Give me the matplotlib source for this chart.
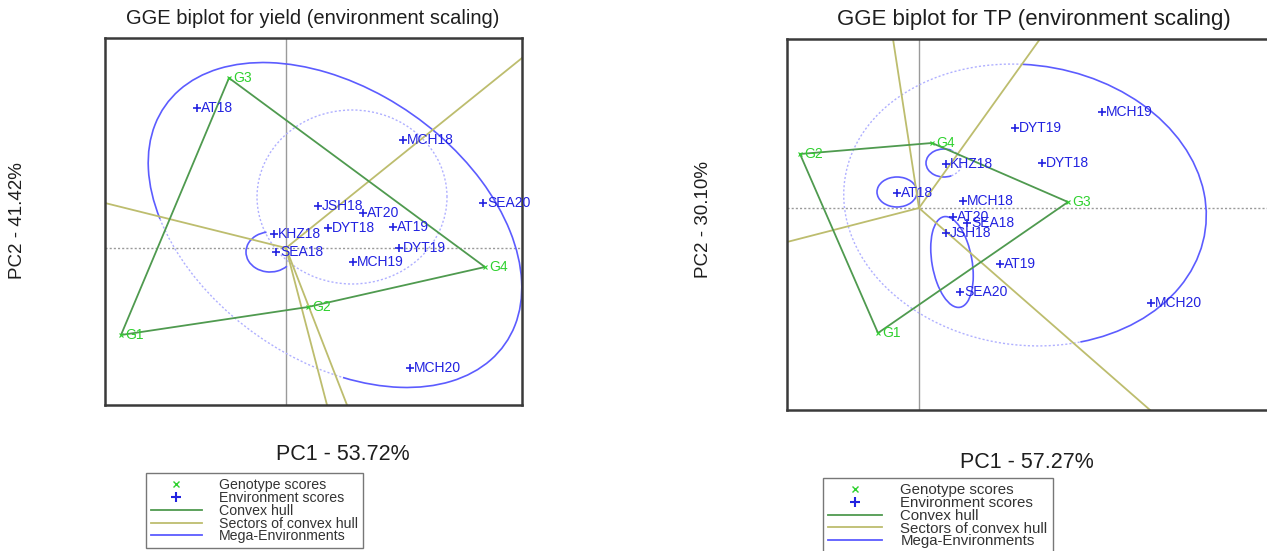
import matplotlib.pyplot as plt
from matplotlib.lines import Line2D
from matplotlib.patches import Arc

plt.rcParams['font.family'] = ['Liberation Sans', 'DejaVu Sans']

# ---- yield biplot (left) ----
y_gen = ['G1', 'G2', 'G3', 'G4']
y_gen_x = [-1.65, 0.22, -0.57, 1.99]
y_gen_y = [-0.87, -0.59, 1.70, -0.19]
y_hull = ['G3', 'G4', 'G2', 'G1']
y_env = ['AT18', 'MCH18', 'JSH18', 'AT20', 'DYT18', 'AT19', 'SEA20',
         'KHZ18', 'SEA18', 'DYT19', 'MCH19', 'MCH20']
y_env_x = [-0.89, 1.17, 0.32, 0.77, 0.42, 1.07, 1.97, -0.12, -0.10, 1.13, 0.67, 1.24]
y_env_y = [1.40, 1.08, 0.42, 0.35, 0.20, 0.21, 0.45, 0.14, -0.04, 0.00, -0.14, -1.20]
# sector rays (end points, drawn from origin)
y_sec_x = [2.36, -1.81, 0.41, 0.61]
y_sec_y = [1.90, 0.45, -1.57, -1.57]
# mega-environment ellipses: cx, cy, w, h, angle, arc from t1 to t2
y_ell = [(0.49, 0.23, 4.15, 2.70, -35, -52, 213),
         (-0.16, -0.04, 0.48, 0.40, 0, 100, 320)]
y_ell_dot = [(0.66, 0.51, 1.90, 1.74, 0, 0, 360),
             (0.49, 0.23, 4.15, 2.70, -35, 213, 308)]

# ---- TP biplot (right) ----
t_gen = ['G1', 'G2', 'G3', 'G4']
t_gen_x = [-0.41, -1.19, 1.49, 0.13]
t_gen_y = [-1.25, 0.54, 0.06, 0.65]
t_hull = ['G2', 'G4', 'G3', 'G1']
t_env = ['AT18', 'AT19', 'AT20', 'DYT18', 'DYT19', 'JSH18', 'KHZ18',
         'MCH18', 'MCH19', 'MCH20', 'SEA18', 'SEA20']
t_env_x = [-0.22, 0.81, 0.34, 1.23, 0.96, 0.27, 0.27, 0.44, 1.83, 2.32, 0.48, 0.41]
t_env_y = [0.15, -0.56, -0.09, 0.45, 0.80, -0.25, 0.44, 0.07, 0.96, -0.95, -0.15, -0.84]
t_sec_x = [-0.26, 1.21, -1.32, 2.31]
t_sec_y = [1.69, 1.69, -0.34, -2.02]
t_ell = [(1.06, 0.03, 3.64, 2.80, -8, -60, 99),
         (-0.22, 0.16, 0.40, 0.30, 0, 0, 360),
         (0.25, 0.45, 0.36, 0.28, 0, 60, 300),
         (0.33, -0.54, 0.92, 0.40, -80, 0, 360)]
t_ell_dot = [(1.06, 0.03, 3.64, 2.80, -8, 99, 300),
             (0.25, 0.45, 0.36, 0.28, 0, 300, 420)]

green = '#2fd12f'
hull_col = '#4f9a4f'
sec_col = '#bdbd6e'
blue = '#2222e0'
ell_col = '#5c5cff'
faint = '#b0b0ff'
ink = '#1e1e1e'

W, H = 1267, 551
fig = plt.figure(figsize=(W / 100, H / 100), dpi=100)


def biplot(box, xlim, ylim, gen, gx, gy, hull, env, ex, ey, sx, sy, ell, ell_dot):
    l, t, r, b = box
    ax = fig.add_axes([l / W, 1 - b / H, (r - l) / W, (b - t) / H])
    ax.set_xlim(xlim)
    ax.set_ylim(ylim)
    ax.set_xticks([])
    ax.set_yticks([])
    for s in ax.spines.values():
        s.set_linewidth(1.8)
        s.set_color('#3a3a3a')
    ax.axvline(0, color='#9a9a9a', lw=1.0, zorder=1)
    ax.axhline(0, color='#9a9a9a', lw=1.0, ls=(0, (1.5, 1.5)), zorder=1)
    for e in ell_dot:
        ax.add_patch(Arc(e[:2], e[2], e[3], angle=e[4], theta1=e[5], theta2=e[6],
                         color=faint, lw=1.0, ls=(0, (1.5, 1.5))))
    for e in ell:
        ax.add_patch(Arc(e[:2], e[2], e[3], angle=e[4], theta1=e[5], theta2=e[6],
                         color=ell_col, lw=1.2))
    for x, y in zip(sx, sy):
        ax.plot([0, x], [0, y], color=sec_col, lw=1.3, zorder=2)
    pos = dict(zip(gen, zip(gx, gy)))
    hx = [pos[g][0] for g in hull] + [pos[hull[0]][0]]
    hy = [pos[g][1] for g in hull] + [pos[hull[0]][1]]
    ax.plot(hx, hy, color=hull_col, lw=1.3, zorder=3)
    ax.plot(gx, gy, 'x', color=green, ms=3, mew=0.8, zorder=4)
    for n, x, y in zip(gen, gx, gy):
        ax.annotate(n, (x, y), xytext=(3, 0), textcoords='offset points',
                    va='center', ha='left', color=green, fontsize=10)
    ax.plot(ex, ey, '+', color=blue, ms=6, mew=1.2, zorder=4)
    for n, x, y in zip(env, ex, ey):
        ax.annotate(n, (x, y), xytext=(3, 0), textcoords='offset points',
                    va='center', ha='left', color=blue, fontsize=10)
    return ax


axl = biplot((105, 38, 522, 405), (-1.81, 2.36), (-1.57, 2.10),
             y_gen, y_gen_x, y_gen_y, y_hull, y_env, y_env_x, y_env_y,
             y_sec_x, y_sec_y, y_ell, y_ell_dot)
axr = biplot((787, 39, 1269, 410), (-1.32, 3.50), (-2.02, 1.69),
             t_gen, t_gen_x, t_gen_y, t_hull, t_env, t_env_x, t_env_y,
             t_sec_x, t_sec_y, t_ell, t_ell_dot)

fig.text(313 / W, 1 - 19 / H, 'GGE biplot for yield (environment scaling)',
         ha='center', va='center', fontsize=14.5, color=ink)
fig.text(1034 / W, 1 - 19 / H, 'GGE biplot for TP (environment scaling)',
         ha='center', va='center', fontsize=16, color=ink)
fig.text(343 / W, 1 - 455 / H, 'PC1 - 53.72%', ha='center', va='center',
         fontsize=15.5, color=ink)
fig.text(1027 / W, 1 - 462 / H, 'PC1 - 57.27%', ha='center', va='center',
         fontsize=15.5, color=ink)
fig.text(18 / W, 1 - 221 / H, 'PC2 - 41.42%', ha='center', va='center',
         rotation=90, fontsize=13.5, color=ink)
fig.text(703 / W, 1 - 220 / H, 'PC2 - 30.10%', ha='center', va='center',
         rotation=90, fontsize=13.5, color=ink)

handles = [Line2D([], [], ls='none', marker='x', color=green, ms=4),
           Line2D([], [], ls='none', marker='+', color=blue, ms=7, mew=1.5),
           Line2D([], [], color=hull_col, lw=1.3),
           Line2D([], [], color=sec_col, lw=1.3),
           Line2D([], [], color=ell_col, lw=1.3)]
labels = ['Genotype scores', 'Environment scores', 'Convex hull',
          'Sectors of convex hull', 'Mega-Environments']
for x0, y0, fs in [(146, 473, 10.2), (823, 478, 10.8)]:
    leg = fig.legend(handles, labels, loc='upper left',
                     bbox_to_anchor=(x0 / W, 1 - y0 / H), fontsize=fs,
                     labelspacing=-0.08, handlelength=3.6, handletextpad=1.2,
                     borderpad=0.35, borderaxespad=0, fancybox=False,
                     framealpha=1, edgecolor='#777777')
    leg.get_frame().set_linewidth(1.0)
    for txt in leg.get_texts():
        txt.set_color('#333333')

fig.savefig('out.png', dpi=100)
